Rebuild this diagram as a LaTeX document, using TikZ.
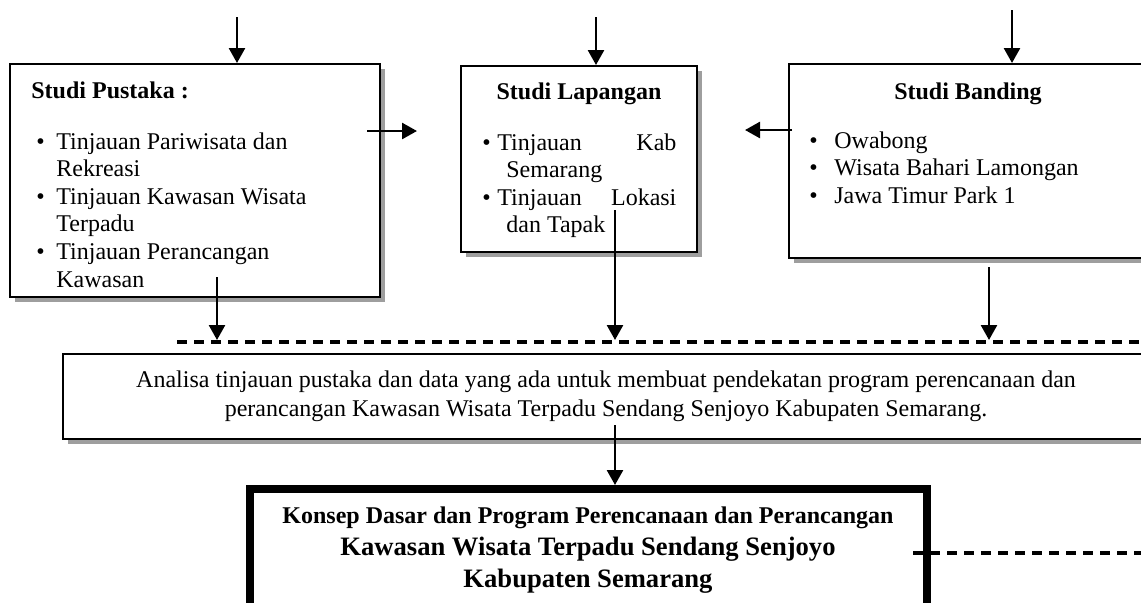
\documentclass[tikz,border=0pt]{standalone}
\usepackage{fontspec}
\setmainfont{Liberation Serif}
\usetikzlibrary{arrows.meta,shadows}

\tikzset{
  box/.style={draw, line width=1pt, fill=white, inner sep=0pt,
    drop shadow={shadow xshift=2.5pt, shadow yshift=-2.5pt, fill=black!38, opacity=1}},
  thickbox/.style={draw, line width=4pt, fill=white, inner sep=0pt},
  arr/.style={line width=1.3pt, -{Triangle[length=7.5pt,width=8pt]}},
  cutline/.style={line width=1.7pt, dash pattern=on 5pt off 3.5pt},
  txt/.style={inner sep=0pt, font=\fontsize{12}{13.8}\selectfont},
}

\begin{document}
\begin{tikzpicture}[x=0.5pt,y=-0.5pt]
\path[use as bounding box, clip] (0,0) rectangle (1141,602);

%Boxes
\node (pustaka)  [box, minimum width=185pt, minimum height=116.3pt] at (195,180.3) {};
\node (lapangan) [box, minimum width=118pt, minimum height=93pt] at (579,159) {};
\node (banding)  [box, minimum width=179pt, minimum height=97pt] at (968,161) {};
\node (analisa)  [box, minimum width=543pt, minimum height=42.5pt] at (606,396.5) {};
\node (konsep)   [thickbox, minimum width=338.5pt, minimum height=80.5pt] at (588.5,569.5) {};

% Text Node
\node (pustakaTitle) [txt, anchor=base west] at (31,98) {\textbf{Studi Pustaka :}};
\node (pustakaList) [txt, anchor=base west] at (36,149) {\begin{tabular}[t]{@{}p{10pt}@{}l@{}}
\textbullet & Tinjauan Pariwisata dan\\
 & Rekreasi\\
\textbullet & Tinjauan Kawasan Wisata\\
 & Terpadu\\
\textbullet & Tinjauan Perancangan\\
 & Kawasan
\end{tabular}};
% Text Node
\node (lapanganTitle) [txt, anchor=base] at (579,99) {\textbf{Studi Lapangan}};
\node (lapanganList) [txt, anchor=base west] at (482,150) {\begin{tabular}[t]{@{}p{7.5pt}@{}l@{}}
\textbullet & \makebox[89.5pt]{Tinjauan\hfill Kab}\\
 & \hspace{4.5pt}Semarang\\
\textbullet & \makebox[89.5pt]{Tinjauan\hfill Lokasi}\\
 & \hspace{4.5pt}dan Tapak
\end{tabular}};
% Text Node
\node (bandingTitle) [txt, anchor=base] at (968,99) {\textbf{Studi Banding}};
\node (bandingList) [txt, anchor=base west] at (809,148) {\begin{tabular}[t]{@{}p{12.5pt}@{}l@{}}
\textbullet & Owabong\\
\textbullet & Wisata Bahari Lamongan\\
\textbullet & Jawa Timur Park 1
\end{tabular}};
% Text Node
\node (analisaText) [txt, anchor=base, font=\fontsize{12}{14.5}\selectfont] at (606,387) {\begin{tabular}[t]{@{}c@{}}
Analisa tinjauan pustaka dan data yang ada untuk membuat pendekatan program perencanaan dan\\
perancangan Kawasan Wisata Terpadu Sendang Senjoyo Kabupaten Semarang.
\end{tabular}};
% Text Node
\node (konsepText) [txt, anchor=base, font=\fontsize{12}{16.2}\selectfont\bfseries] at (588,523) {\begin{tabular}[t]{@{}c@{}}
Konsep Dasar dan Program Perencanaan dan Perancangan\\
{\fontsize{13.3}{16.2}\selectfont Kawasan Wisata Terpadu Sendang Senjoyo}\\
{\fontsize{13.3}{16.2}\selectfont Kabupaten Semarang}
\end{tabular}};

%Arrows in
\coordinate (inP) at (237,17);
\coordinate (inL) at (596,17);
\coordinate (inB) at (1012,10);
\draw[arr] (inP) -- (inP |- pustaka.north);
\draw[arr] (inL) -- (inL |- lapangan.north);
\draw[arr] (inB) -- (inB |- banding.north);

%Side arrows
\coordinate (pOut) at (367,131);
\coordinate (pTip) at (417,131);
\coordinate (bOut) at (792,130);
\coordinate (bTip) at (745,130);
\draw[arr] (pOut) -- (pTip);
\draw[arr] (bOut) -- (bTip);

%Dashed lines
\coordinate (cutL) at (177,342);
\coordinate (cutR) at (1141,342);
\draw[cutline] (cutL) -- (cutR);
\coordinate (kOut) at (913,553);
\draw[cutline] (kOut) -- (kOut -| cutR);

%Arrows down
\coordinate (pDown) at (217,277);
\coordinate (lDown) at (615,210);
\coordinate (bDown) at (989,267);
\coordinate (aDown) at (615,425);
\draw[arr, shorten >=1pt] (pDown) -- (pDown |- cutL);
\draw[arr, shorten >=1pt] (lDown) -- (lDown |- cutL);
\draw[arr, shorten >=1pt] (bDown) -- (bDown |- cutL);
\draw[arr] (aDown) -- (aDown |- konsep.north);

\end{tikzpicture}
\end{document}
